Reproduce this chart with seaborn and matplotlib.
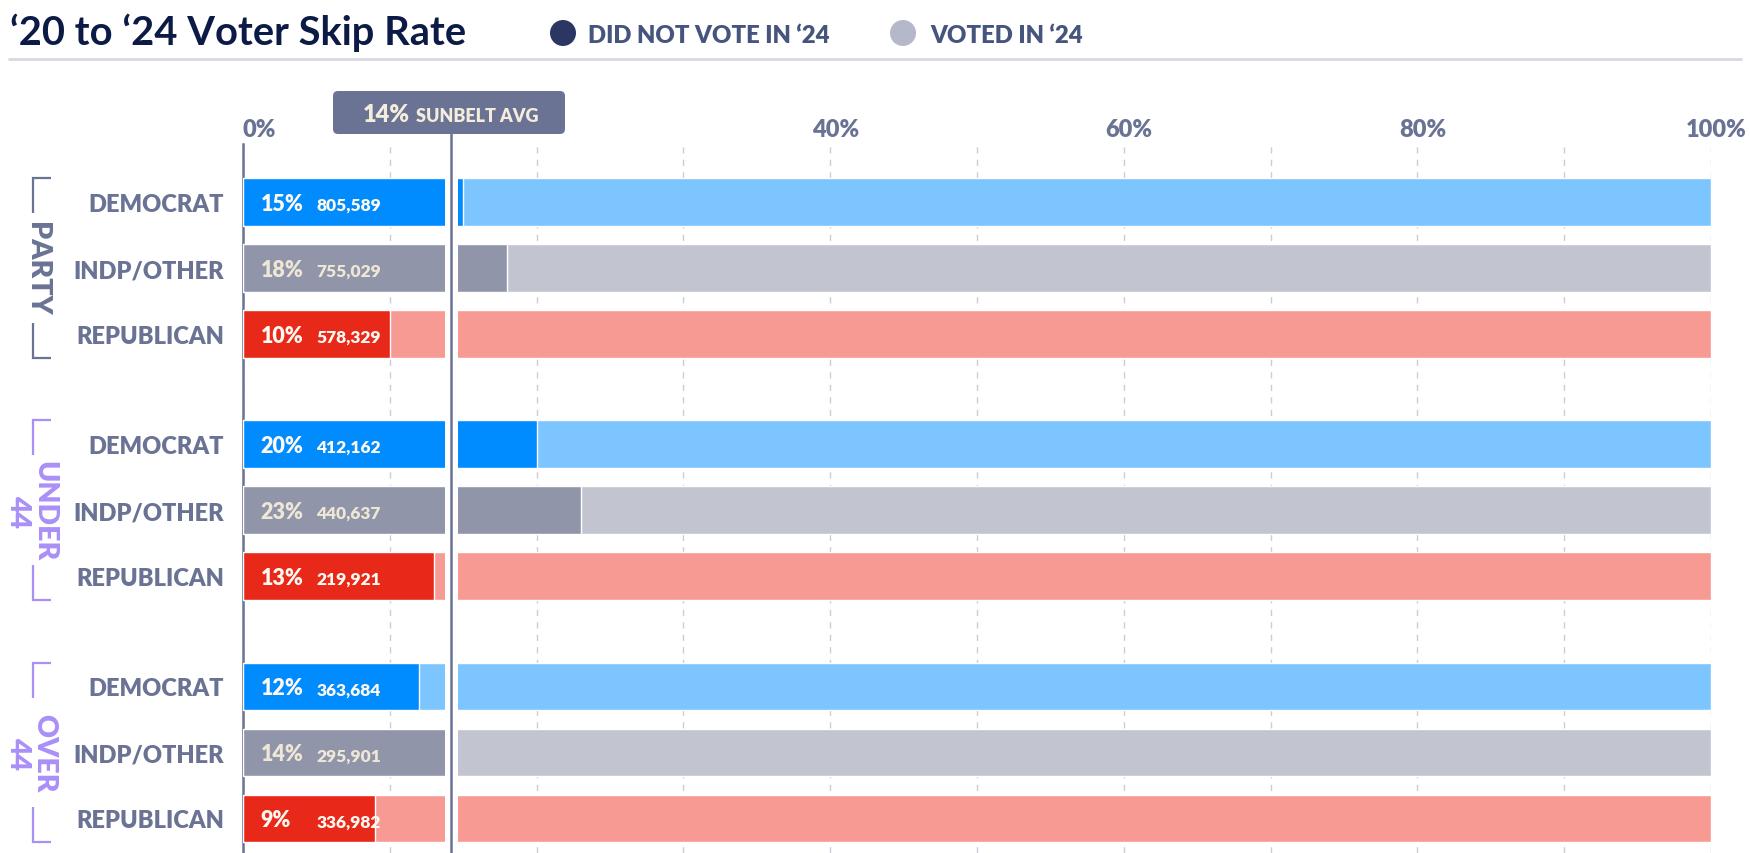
import os
import numpy as np
import pandas as pd
import matplotlib
matplotlib.use("Agg")
import matplotlib.pyplot as plt
import matplotlib.transforms as mtransforms
from matplotlib import font_manager as fm
from matplotlib.patches import FancyBboxPatch, Circle
from matplotlib.lines import Line2D
import seaborn as sns

# ---------------- data ----------------
groups = ["PARTY", "UNDER\n44", "OVER\n44"]
parties = ["DEMOCRAT", "INDP/OTHER", "REPUBLICAN"]
skip_party = [15, 18, 10]
skip_under44 = [20, 23, 13]
skip_over44 = [12, 14, 9]
count_party = [805589, 755029, 578329]
count_under44 = [412162, 440637, 219921]
count_over44 = [363684, 295901, 336982]
sunbelt_avg = 14.2
tick_values = [0, 20, 40, 60, 80, 100]
tick_labels = ["0%", "", "40%", "60%", "80%", "100%"]
title = "\u201820 to \u201824 Voter Skip Rate"
legend_labels = ["DID NOT VOTE IN \u201824", "VOTED IN \u201824"]
avg_label = "SUNBELT AVG"

# ---------------- fonts ----------------
sns.set_style("white")
plt.rcParams["font.family"] = ["Lato", "DejaVu Sans"]

_paths = {os.path.basename(f.fname): f.fname for f in fm.fontManager.ttflist}


def _path(*names):
    for n in names:
        if n in _paths:
            return _paths[n]
    return None


HEAVY_PATH = _path("Lato-ExtraBold.ttf", "Lato-Heavy.ttf", "Lato-Black.ttf", "Lato-Bold.ttf")
BOLD_PATH = _path("Lato-Bold.ttf", "Lato-SemiBold.ttf", "Lato-Semibold.ttf")


def fp(size, kind="heavy"):
    path = HEAVY_PATH if kind == "heavy" else BOLD_PATH
    if path:
        return fm.FontProperties(fname=path, size=size)
    return fm.FontProperties(family="DejaVu Sans", weight="bold", size=size)


# ---------------- style ----------------
dark = {"DEMOCRAT": "#008cff", "INDP/OTHER": "#9195aa", "REPUBLICAN": "#e8291a"}
light = {"DEMOCRAT": "#7dc5ff", "INDP/OTHER": "#c2c4d0", "REPUBLICAN": "#f79a93"}
txt_col = {"DEMOCRAT": "#fdf9f1", "INDP/OTHER": "#efe7d5", "REPUBLICAN": "#fdf9f1"}
group_col = ["#6b7394", "#a98ff7", "#a98ff7"]
SLATE = "#6b7394"

W, H = 1750, 854
GROUP_STEP = 3.67
BAR_H = 0.72
ROW_PX = 66.0

rows = []
for gi, (g, sk, ct) in enumerate(zip(groups, [skip_party, skip_under44, skip_over44],
                                       [count_party, count_under44, count_over44])):
    for ri, (p, s, c) in enumerate(zip(parties, sk, ct)):
        rows.append(dict(group=g, party=p, skip=s, count=c, total=100,
                         ypos=gi * GROUP_STEP + ri))
df = pd.DataFrame(rows)

fig = plt.figure(figsize=(W / 100, H / 100), dpi=100)
ax_top_px = 145
ax = fig.add_axes([243 / W, 0, (1711 - 243) / W, 1 - ax_top_px / H])

sns.barplot(data=df, x="total", y="ypos", hue="party", palette=light, orient="y",
            native_scale=True, dodge=False, width=BAR_H, saturation=1,
            errorbar=None, legend=False, ax=ax, zorder=2)
sns.barplot(data=df, x="skip", y="ypos", hue="party", palette=dark, orient="y",
            native_scale=True, dodge=False, width=BAR_H, saturation=1,
            errorbar=None, legend=False, ax=ax, zorder=3)

ax.set_xlim(0, 100)
y_top = (ax_top_px - 203) / ROW_PX
y_bot = (H - 203) / ROW_PX
ax.set_ylim(y_bot, y_top)

# x axis on top
ax.xaxis.tick_top()
ax.set_xticks(tick_values)
ax.set_xticklabels(tick_labels)
minor = [(a + b) / 2 for a, b in zip(tick_values[:-1], tick_values[1:])]
ax.set_xticks(minor, minor=True)
ax.tick_params(axis="x", which="both", length=0, pad=3, labelcolor=SLATE)
off = mtransforms.ScaledTranslation(5 / 100, 0, fig.dpi_scale_trans)
for i, lab in enumerate(ax.get_xticklabels()):
    lab.set_fontproperties(fp(17))
    if i == 0:
        lab.set_horizontalalignment("left")
    else:
        lab.set_transform(lab.get_transform() + off)
ax.grid(axis="x", which="both", color="#cbccd7", lw=1.0, linestyle=(0, (4.5, 4.5)))
ax.grid(axis="y", visible=False)
ax.set_axisbelow(True)

# y labels
ax.set_yticks(df["ypos"])
ax.set_yticklabels(df["party"])
ax.tick_params(axis="y", length=0, pad=13.5, labelcolor=SLATE)
for lab in ax.get_yticklabels():
    lab.set_fontproperties(fp(17))
ax.set_xlabel("")
ax.set_ylabel("")

for s in ["top", "right", "bottom"]:
    ax.spines[s].set_visible(False)
ax.spines["left"].set_color(SLATE)
ax.spines["left"].set_linewidth(1.8)

# break gap and average line
ax.axvspan(sunbelt_avg - 0.44, sunbelt_avg + 0.44, color="white", zorder=4, lw=0)
ax.axvline(sunbelt_avg, ymin=0, ymax=1 + 10 / (H - ax_top_px), color=SLATE, lw=1.8,
           clip_on=False, zorder=5)

# bar labels
for _, r in df.iterrows():
    ax.text(1.2, r.ypos + 0.12, f"{r.skip}%", fontproperties=fp(15.5),
            color=txt_col[r.party], va="baseline", ha="left", zorder=6)
    ax.text(5.0, r.ypos + 0.12, f"{r['count']:,}", fontproperties=fp(12.5),
            color=txt_col[r.party], va="baseline", ha="left", zorder=6)

# group labels with brackets
bt = mtransforms.blended_transform_factory(fig.transFigure, ax.transData)
for gi, g in enumerate(groups):
    y0 = gi * GROUP_STEP - BAR_H / 2
    y1 = gi * GROUP_STEP + 2 + BAR_H / 2
    yc = gi * GROUP_STEP + 1
    col = group_col[gi]
    xb, xh = 33 / W, 51 / W
    seg = 0.53
    for xs, ys in [([xh, xb, xb], [y0, y0, y0 + seg]),
                   ([xb, xb, xh], [y1 - seg, y1, y1])]:
        fig.add_artist(Line2D(xs, ys, transform=bt, color=col, lw=1.6,
                              solid_capstyle="butt", solid_joinstyle="miter"))
    xt = 37 / W if "\n" not in g else 31 / W
    fig.text(xt, yc, g, transform=bt, rotation=270, ha="center", va="center",
             fontproperties=fp(20.5), color=col, linespacing=1.0,
             multialignment="center")

# title & legend
fig.text(10 / W, 1 - 45 / H, title, fontproperties=fp(28.7, "bold"),
         color="#0c1a46", va="baseline", ha="left")
leg_cols = ["#2b3762", "#b4b8c8"]
leg_circle_x = [563, 903]
leg_text_x = [588, 930]
for lab, c, cx, tx in zip(legend_labels, leg_cols, leg_circle_x, leg_text_x):
    fig.add_artist(Circle((cx / 100, (H - 34) / 100), 13 / 100,
                          transform=fig.dpi_scale_trans, color=c, lw=0))
    fig.text(tx / W, 1 - 43 / H, lab, fontproperties=fp(17.2),
             color="#46557e", va="baseline", ha="left")
fig.add_artist(Line2D([9 / W, 1741 / W], [1 - 60 / H, 1 - 60 / H],
                      transform=fig.transFigure, color="#d7d8e0", lw=2))

# sunbelt avg box
box = FancyBboxPatch((333 / 100, (H - 135) / 100), 232 / 100, 43 / 100,
                     boxstyle="round,pad=0,rounding_size=0.05",
                     transform=fig.dpi_scale_trans, facecolor=SLATE, edgecolor="none")
fig.add_artist(box)
t1 = fig.text(363 / W, 1 - 121.7 / H, f"{round(sunbelt_avg)}%", fontproperties=fp(17),
              color="#f4eddc", va="baseline", ha="left")
fig.canvas.draw()
ext = t1.get_window_extent()
fig.text((ext.x1 + 6) / W, 1 - 121.7 / H, avg_label, fontproperties=fp(13),
         color="#f4eddc", va="baseline", ha="left")

fig.savefig("out.png", dpi=100, facecolor="white")
